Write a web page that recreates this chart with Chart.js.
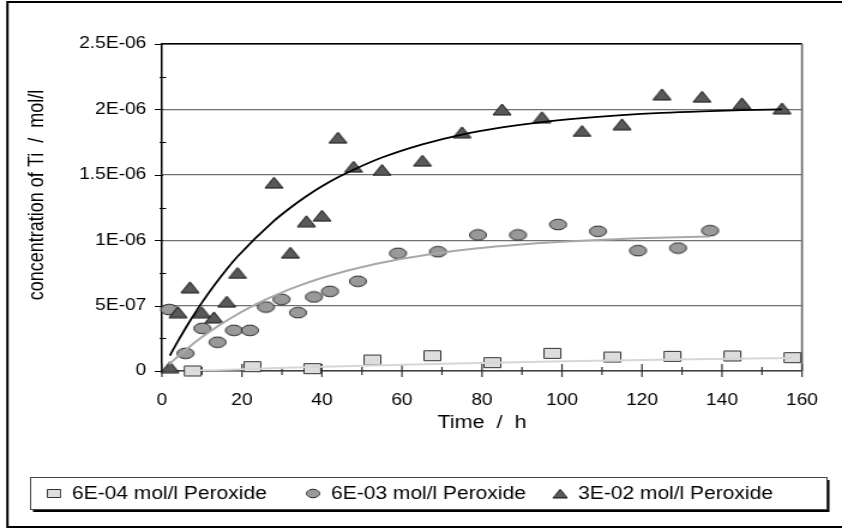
<!DOCTYPE html>
<html>
<head>
<meta charset="utf-8">
<script src="https://cdn.jsdelivr.net/npm/chart.js@4.4.1/dist/chart.umd.min.js"></script>
<style>
  html, body { margin: 0; padding: 0; background: #fff; }
  #tiChart { display: block; }
</style>
</head>
<body>
<!-- the drawing is made narrow and shown wide, like the old exported figure -->
<canvas id="tiChart" width="702" height="529" style="width: 842px; height: 529px;"></canvas>
<script>
// Ti leached into solution, by peroxide concentration (time in h, conc. in mol/l)
const sqTime = [7.7, 22.6, 37.6, 52.6, 67.6, 82.6, 97.6, 112.6, 127.6, 142.6, 157.6];
const sqConc = [0, 3.3e-8, 1.8e-8, 8.4e-8, 1.17e-7, 6.4e-8, 1.35e-7, 1.07e-7, 1.12e-7, 1.15e-7, 1.02e-7];
const sqFit = [2e-9, 1.6e-8, 3.0e-8, 4.3e-8, 5.4e-8, 6.4e-8, 7.3e-8, 8.1e-8, 8.8e-8, 9.4e-8, 9.9e-8];

const ciTime = [1.8, 5.9, 10.1, 13.9, 18, 22, 26, 29.9, 34, 38, 42, 49, 59, 69, 79, 89, 99, 109, 119, 129, 137];
const ciConc = [4.7e-7, 1.35e-7, 3.26e-7, 2.2e-7, 3.11e-7, 3.11e-7, 4.89e-7, 5.48e-7, 4.46e-7, 5.66e-7, 6.09e-7,
  6.86e-7, 9.0e-7, 9.12e-7, 1.04e-6, 1.04e-6, 1.12e-6, 1.068e-6, 9.2e-7, 9.4e-7, 1.073e-6];
const ciFit = [5.2e-8, 1.61e-7, 2.61e-7, 3.41e-7, 4.19e-7, 4.87e-7, 5.47e-7, 6.0e-7, 6.49e-7, 6.92e-7, 7.3e-7,
  7.87e-7, 8.52e-7, 9.01e-7, 9.38e-7, 9.65e-7, 9.86e-7, 1.002e-6, 1.014e-6, 1.023e-6, 1.028e-6];

const trTime = [2, 4, 7, 9.9, 13, 16.2, 18.9, 28, 32.1, 36.1, 40, 44, 47.9, 55, 65.1, 75, 85, 95, 105, 115, 125, 135, 145, 155];
const trConc = [3e-8, 4.5e-7, 6.4e-7, 4.5e-7, 4.1e-7, 5.3e-7, 7.5e-7, 1.44e-6, 9.05e-7, 1.145e-6, 1.187e-6, 1.784e-6,
  1.562e-6, 1.537e-6, 1.608e-6, 1.825e-6, 2.0e-6, 1.94e-6, 1.835e-6, 1.886e-6, 2.115e-6, 2.097e-6, 2.047e-6, 2.008e-6];
const trFit = [1.18e-7, 2.28e-7, 3.82e-7, 5.19e-7, 6.52e-7, 7.78e-7, 8.75e-7, 1.147e-6, 1.248e-6, 1.336e-6, 1.412e-6, 1.481e-6,
  1.539e-6, 1.632e-6, 1.733e-6, 1.808e-6, 1.862e-6, 1.903e-6, 1.933e-6, 1.956e-6, 1.973e-6, 1.985e-6, 1.994e-6, 2.0e-6];

const seriesLabels = ['6E-04 mol/l Peroxide', '6E-03 mol/l Peroxide', '3E-02 mol/l Peroxide'];
const yTickLabels = ['0', '5E-07', '1E-06', '1.5E-06', '2E-06', '2.5E-06'];

const FAMILY = "'Liberation Sans', Arial, sans-serif";
const TICK_FONT = { family: FAMILY, size: 16 };
const TITLE_FONT = { family: FAMILY, size: 18 };
const LEGEND_SIZE = 17.5;

function pairs(xs, ys) {
  return xs.map((x, i) => ({ x: x, y: ys[i] }));
}

// small bitmap markers (square, disc, triangle) used as point styles
function makeMarker(shape, fill, stroke) {
  var c = document.createElement('canvas');
  c.width = 17;
  c.height = 13;
  var g = c.getContext('2d');
  g.fillStyle = fill;
  g.strokeStyle = stroke;
  g.lineWidth = 1;
  g.beginPath();
  if (shape === 'rect') {
    g.rect(1.5, 1.5, 14, 10);
  } else if (shape === 'ellipse') {
    g.ellipse(8.5, 6.5, 7, 5.3, 0, 0, Math.PI * 2);
  } else {
    g.moveTo(8.5, 1);
    g.lineTo(16, 12);
    g.lineTo(1, 12);
    g.closePath();
  }
  g.fill();
  g.stroke();
  return c;
}

const sqMarker = makeMarker('rect', '#dddddd', '#333333');
const ciMarker = makeMarker('ellipse', '#999999', '#222222');
const trMarker = makeMarker('tri', '#595959', '#111111');

// outer frame, plot border and the crossing tick marks
const frame = {
  id: 'frame',
  beforeDatasetsDraw(chart) {
    const { ctx, chartArea: a, scales: { x, y } } = chart;
    ctx.save();
    ctx.strokeStyle = '#000';
    ctx.lineWidth = 1.2;
    ctx.beginPath();
    ctx.moveTo(a.left, a.top);
    ctx.lineTo(a.right, a.top);
    ctx.stroke();
    ctx.strokeStyle = '#6a6a6a';
    ctx.lineWidth = 1.7;
    ctx.beginPath();
    ctx.moveTo(a.right, a.top);
    ctx.lineTo(a.right, a.bottom);
    ctx.stroke();

    ctx.strokeStyle = '#000';
    ctx.lineWidth = 1;
    for (let i = 0; i <= 10; i++) {
      const py = Math.round(y.getPixelForValue(i * 2.5e-7)) + 0.5;
      const major = i % 2 === 0;
      ctx.beginPath();
      ctx.moveTo(a.left - (major ? 6 : 2), py);
      ctx.lineTo(a.left + (major ? 1 : 3.5), py);
      ctx.stroke();
    }
    ctx.strokeStyle = '#333';
    ctx.lineWidth = 1.2;
    for (let i = 0; i <= 16; i++) {
      const px = x.getPixelForValue(i * 10);
      const major = i % 2 === 0;
      ctx.beginPath();
      ctx.moveTo(px, a.bottom - (major ? 7 : 4));
      ctx.lineTo(px, a.bottom + (major ? 6 : 4));
      ctx.stroke();
    }
    ctx.restore();
  },
  afterDraw(chart) {
    const ctx = chart.ctx;
    ctx.save();
    ctx.strokeStyle = '#000';
    ctx.lineWidth = 2;
    ctx.beginPath();
    ctx.moveTo(chart.width + 5, 2);
    ctx.lineTo(6.2, 2);
    ctx.lineTo(6.2, 527);
    ctx.lineTo(chart.width + 5, 527);
    ctx.stroke();
    ctx.restore();
  }
};

// boxed legend with drop shadow along the bottom
const legendBox = {
  id: 'legendBox',
  afterDraw(chart) {
    const ctx = chart.ctx;
    const left = 25.5, top = 477.5, w = 664, h = 32;
    ctx.save();
    ctx.fillStyle = '#000';
    ctx.fillRect(left + 2, top + 2.5, w, h);
    ctx.fillStyle = '#fff';
    ctx.fillRect(left, top, w, h);
    ctx.strokeStyle = '#444';
    ctx.lineWidth = 1;
    ctx.strokeRect(left, top, w, h);

    const markers = [sqMarker, ciMarker, trMarker];
    const centers = [45, 261, 467];
    const cy = top + h / 2;
    ctx.font = LEGEND_SIZE + 'px ' + FAMILY;
    ctx.fillStyle = '#000';
    ctx.textBaseline = 'middle';
    ctx.textAlign = 'left';
    seriesLabels.forEach((label, i) => {
      const m = markers[i];
      const mw = m.width * 0.8, mh = m.height * 0.8;
      ctx.drawImage(m, centers[i] - mw / 2, cy - mh / 2, mw, mh);
      ctx.fillText(label, centers[i] + 15, cy + 1);
    });
    ctx.restore();
  }
};

const scatterSet = (label, xs, ys, marker, order) => ({
  label: label,
  data: pairs(xs, ys),
  pointStyle: marker,
  pointRadius: 5,
  pointHoverRadius: 5,
  showLine: false,
  clip: false,
  order: order
});

const fitSet = (xs, ys, color, width) => ({
  data: pairs(xs, ys),
  showLine: true,
  pointRadius: 0,
  pointHoverRadius: 0,
  borderColor: color,
  borderWidth: width,
  cubicInterpolationMode: 'monotone',
  fill: false,
  order: 0
});

var ctx = document.getElementById('tiChart').getContext('2d');
var tiChart = new Chart(ctx, {
  type: 'scatter',
  data: {
    datasets: [
      scatterSet(seriesLabels[0], sqTime, sqConc, sqMarker, 3),
      scatterSet(seriesLabels[1], ciTime, ciConc, ciMarker, 2),
      scatterSet(seriesLabels[2], trTime, trConc, trMarker, 1),
      fitSet(sqTime, sqFit, '#d6d6d6', 2),
      fitSet(ciTime, ciFit, '#a8a8a8', 2),
      fitSet(trTime, trFit, '#000000', 1.8)
    ]
  },
  options: {
    responsive: false,
    animation: false,
    layout: { padding: { left: 8, top: 44, right: 33, bottom: 0 } },
    plugins: {
      legend: { display: false },
      tooltip: { enabled: false }
    },
    scales: {
      x: {
        type: 'linear',
        min: 0,
        max: 160,
        ticks: { stepSize: 20, padding: 20, font: TICK_FONT, color: '#000', maxRotation: 0 },
        grid: { display: false, drawTicks: false },
        border: { display: true, color: '#404040', width: 1.5 },
        title: { display: true, text: 'Time  /  h', font: TITLE_FONT, color: '#000', padding: { top: 0, bottom: 95 } },
        afterFit: (s) => { s.height = 158; }
      },
      y: {
        min: 0,
        max: 2.5e-6,
        ticks: {
          stepSize: 5e-7,
          padding: 13,
          font: TICK_FONT,
          color: '#000',
          callback: (v, i) => yTickLabels[i]
        },
        grid: {
          drawTicks: false,
          color: (c) => (c.index === yTickLabels.length - 1 ? '#000' : '#707070'),
          lineWidth: 1.2
        },
        border: { display: true, color: '#000', width: 1.5 },
        title: {
          display: true,
          text: '     concentration of Ti  /  mol/l',
          font: TITLE_FONT,
          color: '#000',
          padding: { top: 12, bottom: 0 }
        },
        afterFit: (s) => { s.width = 127; }
      }
    }
  },
  plugins: [frame, legendBox]
});
</script>
</body>
</html>
